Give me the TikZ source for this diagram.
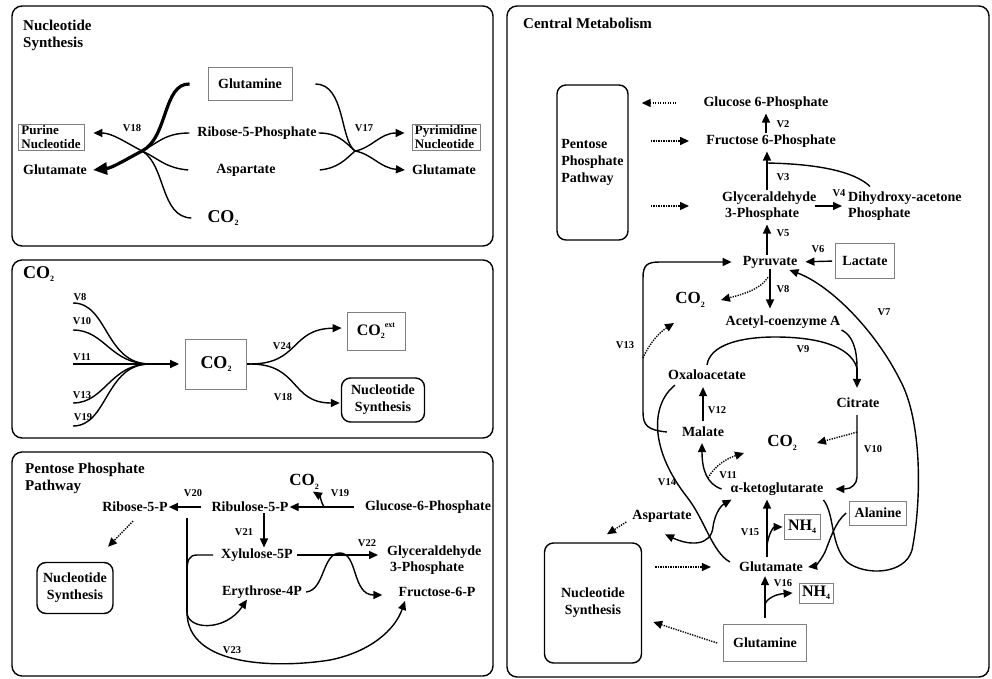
\documentclass[tikz,border=0pt]{standalone}
\usepackage{fontspec}
\setmainfont{Liberation Serif}
\usetikzlibrary{arrows.meta}
\newcommand{\lowidx}[1]{\raisebox{-0.45ex}{\fontsize{8}{8}\selectfont #1}}
\newcommand{\highidx}[1]{\raisebox{1.1ex}{\fontsize{8}{8}\selectfont #1}}

\begin{document}
\begin{tikzpicture}[
    x=1pt, y=-1pt,
    panel/.style={draw, line width=1.4pt, rounded corners=10pt},
    title/.style={font=\fontsize{15}{17}\selectfont\bfseries, align=left, inner sep=0pt},
    lbl/.style={font=\fontsize{14}{16}\selectfont\bfseries, inner sep=1pt},
    bigco/.style={font=\fontsize{18}{20}\selectfont\bfseries, inner sep=1pt},
    midco/.style={font=\fontsize{17}{19}\selectfont\bfseries, inner sep=1pt},
    vlab/.style={font=\fontsize{10.5}{11}\selectfont\bfseries, inner sep=0pt},
    sbox/.style={lbl, draw=black!50, line width=0.8pt, inner sep=0pt},
    rbox/.style={lbl, font=\fontsize{14}{17}\selectfont\bfseries, draw, line width=1.4pt,
                 rounded corners=9pt, align=center},
    flow/.style={line width=1.4pt},
    arrow/.style={flow, -{Triangle[length=9pt,width=8pt]}},
    dotarrow/.style={arrow, dash pattern=on 1.3pt off 1.2pt},
    bigarrow/.style={line width=3.2pt, -{Triangle[length=14pt,width=12pt]}}
  ]
  \useasboundingbox (0,0) rectangle (992,679);

  % panels
  \draw[panel] (12,6) rectangle (493,246);
  \draw[panel] (12,260) rectangle (493,438);
  \draw[panel] (12,452) rectangle (493,676);
  \draw[panel] (507,6) rectangle (989,677);

  % nucleotide synthesis
  \node[title, anchor=north west] (nsTitle) at (23,20) {Nucleotide\\Synthesis};
  \node[sbox, minimum width=84pt, minimum height=33pt] (glnA) at (250,84) {Glutamine};
  \node[lbl] (ribA) at (257,133) {Ribose-5-Phosphate};
  \node[lbl] (aspA) at (246,170) {Aspartate};
  \node[bigco] (co2A) at (223,218) {CO\lowidx{2}};
  \node[sbox, font=\fontsize{13}{13.5}\selectfont\bfseries, align=left,
        minimum width=66pt, minimum height=26pt] (purA) at (51,137) {Purine\\Nucleotide};
  \node[lbl] (gluA) at (55,170) {Glutamate};
  \node[sbox, font=\fontsize{13}{13.5}\selectfont\bfseries, align=left,
        minimum width=68pt, minimum height=26pt] (pyrA) at (446,137) {Pyrimidine\\Nucleotide};
  \node[lbl] (gluB) at (444,170) {Glutamate};
  \node[vlab] (v18A) at (132,128) {V18};
  \node[vlab] (v17A) at (364,128) {V17};

  \coordinate (xA) at (142,151);
  \coordinate (xB) at (355,151);

  \draw[bigarrow] ([xshift=-18pt]glnA.west) .. controls (163,83) and (168,138) .. (xA)
      .. controls (125,160) and (112,168) .. ([xshift=5pt]gluA.east);
  \draw[flow] ([xshift=-7pt]ribA.west) .. controls (165,133) and (158,143) .. (xA);
  \draw[flow] ([xshift=-27pt]aspA.west) .. controls (165,168) and (158,158) .. (xA);
  \draw[flow] ([xshift=-15pt]co2A.west) .. controls (160,217) and (166,165) .. (xA);
  \draw[arrow] (xA) .. controls (125,142) and (112,133) .. ([shift={(9,-4)}]purA.east);

  \draw[flow] ([xshift=23pt]glnA.east) .. controls (345,84) and (340,140) .. (xB);
  \draw[flow] ([xshift=1pt]ribA.east) .. controls (338,133) and (345,142) .. (xB);
  \draw[flow] ([xshift=43pt]aspA.east) .. controls (338,168) and (345,160) .. (xB);
  \draw[arrow] (xB) .. controls (372,148) and (380,133) .. ([shift={(-7,-4)}]pyrA.west);
  \draw[arrow] (xB) .. controls (372,154) and (380,168) .. ([xshift=-6pt]gluB.west);

  % CO2
  \node[bigco, anchor=west] (co2Title) at (22,274) {CO\lowidx{2}};
  \node[sbox, bigco, minimum width=61pt, minimum height=50pt] (co2B) at (216,364) {CO\lowidx{2}};
  \node[sbox, font=\fontsize{16}{18}\selectfont\bfseries, minimum width=58pt,
        minimum height=38pt] (co2X) at (376,331) {CO\lowidx{2}\highidx{ext}};
  \node[rbox, minimum width=83pt, minimum height=44pt] (nsB) at (383,400) {Nucleotide\\Synthesis};

  \coordinate (in8) at (73,303);
  \coordinate (in10) at (73,330);
  \coordinate (in11) at (73,364);
  \coordinate (in13) at (73,403);
  \coordinate (in19) at (73,426);
  \coordinate (merge) at (150,364);
  \coordinate (split) at (250,364);
  \node[vlab] (v8B) at (80,297) {V8};
  \node[vlab] (v10B) at (82,321) {V10};
  \node[vlab] (v11B) at (82,357) {V11};
  \node[vlab] (v13B) at (82,395) {V13};
  \node[vlab] (v19B) at (83,417) {V19};

  \draw[flow] (in8) .. controls (108,303) and (105,364) .. (merge);
  \draw[flow] (in10) .. controls (105,330) and (110,364) .. (merge);
  \draw[flow] (in11) -- (merge);
  \draw[flow] (in13) .. controls (105,403) and (110,364) .. (merge);
  \draw[flow] (in19) .. controls (108,426) and (105,364) .. (merge);
  \draw[arrow, shorten >=6pt] (merge) -- (co2B.west);
  \draw[flow] (co2B.east) -- (split);
  \draw[arrow] (split) .. controls (300,364) and (290,329) .. ([shift={(-5,-3)}]co2X.west);
  \draw[arrow] (split) .. controls (300,364) and (290,403) .. ([shift={(-1,3)}]nsB.west);
  \node[vlab] (v24B) at (282,346) {V24};
  \node[vlab] (v18B) at (283,397) {V18};

  % pentose phosphate pathway
  \node[title, anchor=north west] (ppTitle) at (25,463) {Pentose Phosphate\\Pathway};
  \node[lbl] (rib5) at (135,507) {Ribose-5-P};
  \node[lbl] (ribu) at (250,507) {Ribulose-5-P};
  \node[lbl] (g6pP) at (428,507) {Glucose-6-Phosphate};
  \node[midco] (co2P) at (304,482) {CO\lowidx{2}};
  \node[lbl] (xylu) at (257,555) {Xylulose-5P};
  \node[lbl, align=left, anchor=west] (gapP) at (386,560) {Glyceraldehyde\\\hspace*{3pt}3-Phosphate};
  \node[lbl] (ery) at (262,592) {Erythrose-4P};
  \node[lbl] (f6pP) at (437,592) {Fructose-6-P};
  \node[rbox, minimum width=76pt, minimum height=51pt] (nsP) at (75,588) {Nucleotide\\Synthesis};

  \coordinate (br19) at (324,507);
  \coordinate (v21x) at (264,530);
  \coordinate (ppTop) at (187,518);
  \coordinate (ppX) at (187,572);
  \coordinate (ppSplit) at (187,612);

  \draw[arrow, shorten <=9pt] (ribu.west) -- (rib5.east);
  \draw[arrow, shorten <=10pt] (g6pP.west) -- (ribu.east);
  \draw[arrow] (br19) .. controls (321,502) and (320,496) .. ([shift={(-7,1)}]co2P.south east);
  \draw[arrow] (ribu.south -| v21x) -- (xylu.north -| v21x);
  \draw[arrow, shorten <=3pt, shorten >=8pt] (xylu.east) -- (xylu.east -| gapP.west);
  \draw[arrow] ([xshift=3pt]ery.east) .. controls (325,590) and (322,553) .. (340,553)
      .. controls (358,553) and (352,595) .. ([shift={(-15,3)}]f6pP.west);
  \draw[flow] ([xshift=-7pt]xylu.west) -- (197,555) .. controls (189,555) and (187,560) .. (ppX);
  \draw[flow] (ppTop) -- (ppSplit);
  \draw[arrow] (ppSplit) .. controls (187,630) and (225,632) .. ([xshift=-15pt]ery.south);
  \draw[arrow] (ppSplit) .. controls (187,668) and (280,668) .. (330,660)
      .. controls (370,652) and (395,630) .. ([shift={(-32,3)}]f6pP.south);
  \draw[dotarrow] ([shift={(-2,8)}]rib5.south) -- ([shift={(33,-15)}]nsP.north);
  \node[vlab] (v20P) at (193,493) {V20};
  \node[vlab] (v19P) at (340,493) {V19};
  \node[vlab] (v21P) at (244,532) {V21};
  \node[vlab] (v22P) at (367,543) {V22};
  \node[vlab] (v23P) at (232,650) {V23};

  % central metabolism
  \node[title, anchor=west] (cmTitle) at (523,23) {Central Metabolism};
  \node[rbox, align=left, minimum width=71pt, minimum height=155pt] (ppC) at (592.5,162.5)
      {Pentose\\Phosphate\\Pathway};
  \node[lbl] (g6pC) at (766,103) {Glucose 6-Phosphate};
  \node[lbl] (f6pC) at (771,141) {Fructose 6-Phosphate};
  \node[lbl, align=left, anchor=west] (gapC) at (721,206) {Glyceraldehyde\\\hspace*{3pt}3-Phosphate};
  \node[lbl, align=left, anchor=west] (dhap) at (847,206) {Dihydroxy-acetone\\Phosphate};
  \node[lbl] (pyr) at (770,262) {Pyruvate};
  \node[sbox, minimum width=59pt, minimum height=35pt] (lac) at (865,261) {Lactate};
  \node[midco] (co2C1) at (690,300) {CO\lowidx{2}};
  \node[lbl] (acoa) at (783,322) {Acetyl-coenzyme A};
  \node[lbl] (oaa) at (707,375) {Oxaloacetate};
  \node[lbl] (cit) at (858,403) {Citrate};
  \node[lbl] (mal) at (703,432) {Malate};
  \node[midco] (co2C2) at (782,443) {CO\lowidx{2}};
  \node[lbl] (akg) at (777,489) {α-ketoglutarate};
  \node[lbl] (asp) at (662,516) {Aspartate};
  \node[sbox, font=\fontsize{16}{18}\selectfont\bfseries, minimum width=36pt,
        minimum height=25pt] (nh4a) at (802,527) {NH\lowidx{4}};
  \node[sbox, minimum width=57pt, minimum height=24pt] (ala) at (878,513) {Alanine};
  \node[lbl] (glu) at (771,567) {Glutamate};
  \node[rbox, minimum width=97pt, minimum height=120pt] (nsC) at (593,603) {Nucleotide\\Synthesis};
  \node[sbox, font=\fontsize{16}{18}\selectfont\bfseries, minimum width=34pt,
        minimum height=20pt] (nh4b) at (816,593) {NH\lowidx{4}};
  \node[sbox, minimum width=83pt, minimum height=37pt] (glnC) at (765,643) {Glutamine};

  \coordinate (v3j) at (767,163);
  \coordinate (v9j) at (857,368);
  \coordinate (v13d) at (643,358);
  \coordinate (v11d) at (708,478);
  \coordinate (v15b) at (767,545);
  \coordinate (v16b) at (765,604);

  % glycolysis
  \draw[dotarrow, shorten <=26pt, shorten >=13pt] (g6pC.west) -- (ppC.east |- g6pC);
  \draw[dotarrow, shorten <=22pt, shorten >=16pt] (ppC.east |- f6pC) -- (f6pC.west);
  \draw[dotarrow, shorten <=22pt, shorten >=32pt] (ppC.east |- gapC.west) -- (gapC.west);
  \draw[arrow, shorten >=3pt] (f6pC.north -| g6pC) -- (g6pC.south);
  \draw[arrow, shorten >=3pt] (gapC.north -| v3j) -- (f6pC.south -| v3j);
  \draw[flow] ([shift={(23,-4)}]dhap.north west) .. controls (855,172) and (820,164) .. (v3j);
  \draw[arrow, shorten <=-3pt, shorten >=5pt] (gapC.east) -- (dhap.west);
  \draw[arrow, shorten >=3pt] (pyr.north -| v3j) -- (gapC.south -| v3j);
  \draw[arrow, shorten <=3pt, shorten >=7pt] (lac.west) -- (pyr.east);
  \node[vlab] (v2C) at (783,124) {V2};
  \node[vlab] (v3C) at (783,177) {V3};
  \node[vlab] (v4C) at (839,193) {V4};
  \node[vlab] (v5C) at (783,233) {V5};
  \node[vlab] (v6C) at (818,249) {V6};

  % TCA cycle
  \draw[arrow, shorten >=6pt] (pyr.south) -- (pyr.south |- acoa.north);
  \draw[dotarrow] ([shift={(-2,8)}]pyr.south) .. controls (760,290) and (740,295)
      .. ([xshift=15pt]co2C1.east);
  \draw[arrow] ([xshift=-14pt]mal.west) .. controls (648,430) and (643,426) .. (643,412)
      -- (643,278) .. controls (643,265) and (647,262) .. (660,262) -- ([xshift=-10pt]pyr.west);
  \draw[dotarrow] (v13d) .. controls (650,342) and (660,332) .. ([shift={(0,23)}]co2C1.west);
  \draw[flow] ([shift={(0,-4)}]oaa.north) .. controls (710,345) and (740,337) .. (775,337)
      .. controls (815,337) and (850,345) .. (v9j);
  \draw[flow] ([shift={(0,8)}]acoa.east) .. controls (852,335) and (857,348) .. (v9j);
  \draw[arrow, shorten >=9pt] (v9j) -- (v9j |- cit.north);
  \draw[arrow, shorten <=5pt, shorten >=6pt] (mal.north) -- (mal.north |- oaa.south);
  \draw[arrow, rounded corners=12pt, shorten <=6pt] ([xshift=-1pt]cit.south)
      |- ([xshift=11pt]akg.east);
  \draw[dotarrow] ([shift={(-1,23)}]cit.south) -- ([xshift=19pt]co2C2.east);
  \draw[arrow] ([xshift=-8pt]akg.west) .. controls (707,484) and (702,470)
      .. ([shift={(-1,5)}]mal.south);
  \draw[dotarrow] (v11d) .. controls (715,465) and (728,458) .. ([shift={(-22,10)}]co2C2.west);
  \node[vlab] (v7C) at (884,312) {V7};
  \node[vlab] (v8C) at (783,289) {V8};
  \node[vlab] (v9C) at (803,349) {V9};
  \node[vlab] (v10C) at (873,449) {V10};
  \node[vlab] (v11C) at (728,475) {V11};
  \node[vlab] (v12C) at (717,410) {V12};
  \node[vlab] (v13C) at (625,345) {V13};

  % transaminations
  \draw[flow] ([shift={(-32,4)}]oaa.south) .. controls (650,405) and (650,450) .. (687,497)
      .. controls (705,520) and (712,552) .. ([shift={(-8,-5)}]glu.west);
  \draw[flow, {Triangle[length=9pt,width=8pt]}-{Triangle[length=9pt,width=8pt]}]
      ([shift={(3,11)}]asp.south) .. controls (690,546) and (711,546) .. (713,527)
      .. controls (715,512) and (722,505) .. ([shift={(2,3)}]akg.south west);
  \draw[arrow] ([shift={(-1,11)}]akg.east) .. controls (835,515) and (830,545) .. (847,562)
      .. controls (865,576) and (905,575) .. (912,550)
      .. controls (922,500) and (922,420) .. (900,380)
      .. controls (875,330) and (830,285) .. ([shift={(-9,8)}]pyr.east);
  \draw[arrow] ([xshift=-3pt]ala.west) .. controls (835,522) and (830,540) .. (825,552)
      .. controls (820,562) and (815,566) .. ([xshift=4pt]glu.east);
  \node[vlab] (v14C) at (667,482) {V14};

  % nitrogen
  \draw[arrow, shorten <=4pt, shorten >=3pt] (glu.north -| v15b) -- (akg.south -| v15b);
  \draw[arrow] (v15b) .. controls (769,532) and (774,527) .. ([xshift=-1pt]nh4a.west);
  \draw[arrow, shorten <=6pt, shorten >=3pt] (glnC.north) -- (glnC.north |- glu.south);
  \draw[arrow] (v16b) .. controls (768,597) and (778,594) .. ([xshift=-6pt]nh4b.west);
  \draw[dotarrow, shorten <=13pt, shorten >=27pt] (nsC.east |- glu) -- (glu.west);
  \draw[dotarrow] ([xshift=-6pt]glnC.west) -- ([shift={(11,19)}]nsC.east);
  \draw[dotarrow] ([shift={(-5,6)}]asp.west) -- ([shift={(14,-8)}]nsC.north);
  \node[vlab] (v15C) at (750,532) {V15};
  \node[vlab] (v16C) at (783,583) {V16};
\end{tikzpicture}
\end{document}
